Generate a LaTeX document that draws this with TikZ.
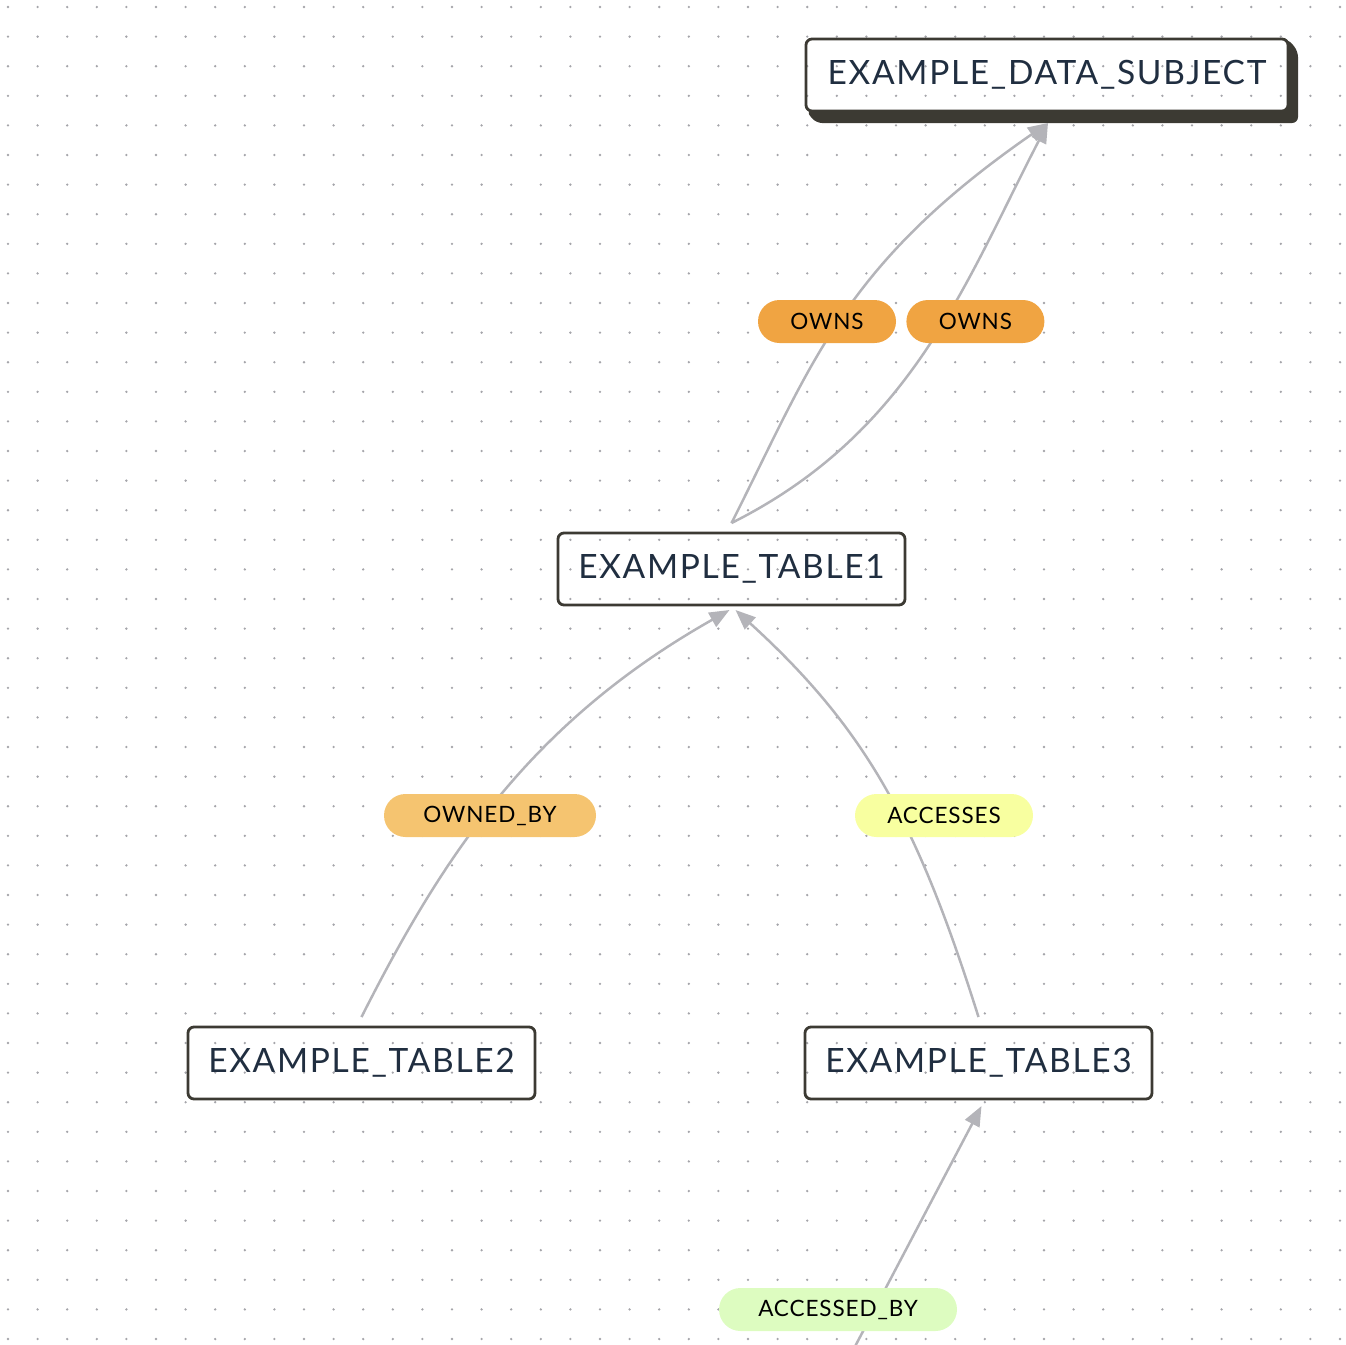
\documentclass[tikz,border=0pt]{standalone}
\usepackage{fontspec}
\setmainfont{Lato}
\newfontfamily\boxfont[LetterSpace=5]{Lato}
\newfontfamily\pillfont[LetterSpace=4]{Lato}
\usetikzlibrary{arrows.meta,backgrounds,positioning}

\definecolor{boxline}{RGB}{60,58,51}
\definecolor{boxtext}{RGB}{32,46,64}
\definecolor{linkgray}{RGB}{180,180,185}
\definecolor{dotgray}{RGB}{165,165,170}
\definecolor{ownscol}{RGB}{240,164,66}
\definecolor{ownedcol}{RGB}{245,196,112}
\definecolor{accesscol}{RGB}{248,255,160}
\definecolor{accessedcol}{RGB}{221,252,192}

\begin{document}
\begin{tikzpicture}[
    x=1pt, y=-1pt,
    >={Triangle[length=20pt,width=16pt]},
    entitybox/.style={
      draw=boxline,
      line width=2.8pt,
      rounded corners=6pt,
      outer sep=0,
      minimum width=347pt,
      minimum height=72pt,
      text=boxtext,
      font=\boxfont\fontsize{33.5}{33.5}\selectfont
    },
    rellabel/.style={
      rounded corners=21.5pt,
      minimum height=43pt,
      inner sep=0,
      font=\pillfont\fontsize{22.5}{22.5}\selectfont
    },
    link/.style={->, draw=linkgray, line width=2.5pt}
    ]

    \clip (0,0) rectangle (1345,1345);

    % dotted grid
    \foreach \i in {0,...,45}
      \foreach \j in {0,...,45}
        \fill[dotgray] (8+29.6*\i, 7+29.6*\j) circle (1.3pt);

    \node [entitybox] (ds) at (1047,75) [minimum width=482pt] {EXAMPLE\_DATA\_SUBJECT};
    \node [entitybox] (t1) at (731.5,569) {EXAMPLE\_TABLE1};
    \node [entitybox] (t2) at (361.5,1063) {EXAMPLE\_TABLE2};
    \node [entitybox] (t3) [right = 270pt of t2] {EXAMPLE\_TABLE3};
    \coordinate (src) at (840,1375);

    \begin{scope}[on background layer]
      \fill[boxline, rounded corners=6pt] (ds.north east) -- ++(10,12) -- ++(0,72)
        -- ++(-482,0) -- (ds.south west) -- cycle;
      \fill[white, rounded corners=6pt] (ds.south west) rectangle (ds.north east);
    \end{scope}

    \draw[link] ([yshift=10pt]t1.north) .. controls +(81,-160) and +(-205,142) .. ([xshift=1pt,yshift=-12pt]ds.south);
    \draw[link] ([yshift=10pt]t1.north) .. controls +(180,-90) and +(-83,160) .. ([xshift=1pt,yshift=-12pt]ds.south);
    \draw[link] ([yshift=10pt]t2.north) .. controls +(81,-160) and +(-200,113) .. ([xshift=-2pt,yshift=-5pt]t1.south);
    \draw[link] ([yshift=10pt]t3.north) .. controls +(-60,-190) and +(133,121) .. ([xshift=4pt,yshift=-5pt]t1.south);
    \draw[link] (src) -- ([xshift=3pt,yshift=-7pt]t3.south);

    \node [rellabel, fill=ownscol, minimum width=138pt] (ownsa) at (827,321.5) {OWNS};
    \node [rellabel, fill=ownscol, minimum width=138pt] (ownsb) [right = 10pt of ownsa] {OWNS};
    \node [rellabel, fill=ownedcol, minimum width=212pt] (ownedby) at (490,815.5) {OWNED\_BY};
    \node [rellabel, fill=accesscol, minimum width=178pt] (accesses) at (944,815.5) {ACCESSES};
    \node [rellabel, fill=accessedcol, minimum width=238pt] (accessedby) at (838,1309.5) {ACCESSED\_BY};

  \end{tikzpicture}
\end{document}
